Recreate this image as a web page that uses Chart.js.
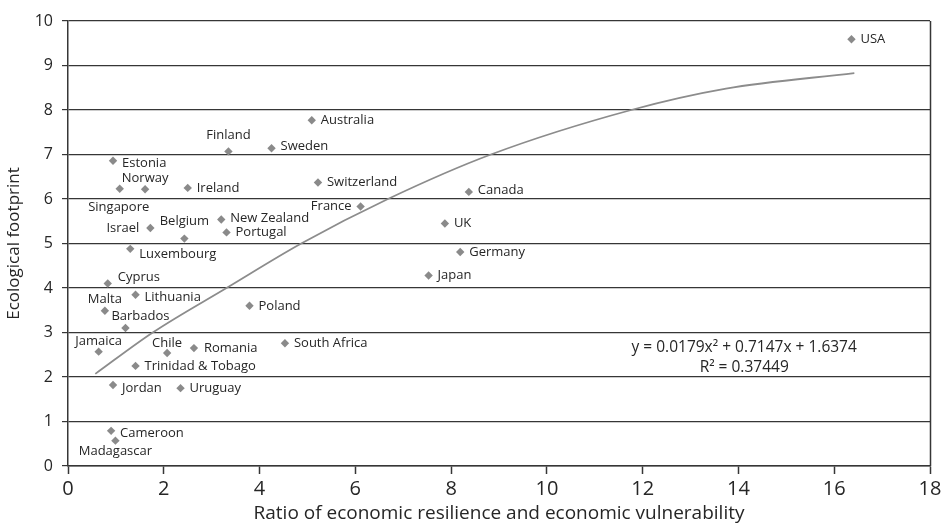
<!DOCTYPE html>
<html>
<head>
<meta charset="utf-8">
<script src="https://cdn.jsdelivr.net/npm/chart.js@4/dist/chart.umd.min.js"></script>
<style>
  html, body { margin: 0; padding: 0; background: #ffffff; }
  canvas { display: block; }
</style>
</head>
<body>
<canvas id="chart" width="949" height="530"></canvas>
<script>
// Countries: ratio of economic resilience to economic vulnerability vs ecological footprint
const countries = [
  'USA', 'Australia', 'Finland', 'Sweden', 'Estonia', 'Norway', 'Singapore', 'Ireland',
  'Switzerland', 'Canada', 'France', 'New Zealand', 'Belgium', 'Israel', 'Portugal', 'UK',
  'Luxembourg', 'Germany', 'Japan', 'Cyprus', 'Lithuania', 'Malta', 'Poland', 'Barbados',
  'South Africa', 'Romania', 'Jamaica', 'Chile', 'Trinidad & Tobago', 'Jordan', 'Uruguay',
  'Cameroon', 'Madagascar'
];
const resilienceRatio = [
  16.36, 5.09, 3.35, 4.25, 0.94, 1.61, 1.08, 2.50,
  5.22, 8.37, 6.11, 3.20, 2.43, 1.72, 3.31, 7.87,
  1.30, 8.19, 7.53, 0.83, 1.41, 0.77, 3.79, 1.20,
  4.53, 2.63, 0.64, 2.07, 1.41, 0.94, 2.35,
  0.90, 0.99
];
const footprint = [
  9.59, 7.77, 7.07, 7.14, 6.86, 6.22, 6.23, 6.25,
  6.37, 6.16, 5.83, 5.54, 5.11, 5.35, 5.25, 5.45,
  4.88, 4.81, 4.28, 4.10, 3.85, 3.49, 3.60, 3.10,
  2.76, 2.65, 2.57, 2.54, 2.25, 1.82, 1.75,
  0.79, 0.57
];

// Fitted trend curve (sampled along the drawn line)
const trendX = [0.57, 1.77, 3.31, 4.87, 6.68, 8.83, 11.76, 13.74, 16.42];
const trendY = [2.07, 3.00, 4.00, 5.00, 6.00, 7.00, 8.00, 8.48, 8.83];

const trendEquation = 'y = 0.0179x\u00B2 + 0.7147x + 1.6374';
const trendR2 = 'R\u00B2 = 0.37449';

const xTitle = 'Ratio of economic resilience and economic vulnerability';
const yTitle = 'Ecological footprint';

// Where each country name sits around its marker: [side, dx, dy] in px
const labelSpots = {
  'USA': ['r', 9, 0], 'Australia': ['r', 9, 0], 'Finland': ['c', 0, -16],
  'Sweden': ['r', 9, -2], 'Estonia': ['r', 9, 3], 'Norway': ['c', 0, -11],
  'Singapore': ['c', -1, 19], 'Ireland': ['r', 9, 0], 'Switzerland': ['r', 9, 0],
  'Canada': ['r', 9, -2], 'France': ['l', -9, 0], 'New Zealand': ['r', 9, -1],
  'Belgium': ['c', 0, -17], 'Israel': ['l', -11, 0], 'Portugal': ['r', 9, 0],
  'UK': ['r', 9, 0], 'Luxembourg': ['r', 9, 5], 'Germany': ['r', 9, 0],
  'Japan': ['r', 9, 0], 'Cyprus': ['r', 10, -6], 'Lithuania': ['r', 9, 3],
  'Malta': ['c', 0, -11], 'Poland': ['r', 9, 0], 'Barbados': ['c', 15, -12],
  'South Africa': ['r', 9, 0], 'Romania': ['r', 10, 0], 'Jamaica': ['c', 0, -10],
  'Chile': ['c', 0, -10], 'Trinidad & Tobago': ['r', 9, 0], 'Jordan': ['r', 9, 3],
  'Uruguay': ['r', 9, 0], 'Cameroon': ['r', 9, 2], 'Madagascar': ['c', 0, 11]
};

const FONT = "'Open Sans', 'Liberation Sans', sans-serif";
const INK = '#262626';
const RULE = '#363636';
const MARK = '#8a8a8a';

// Draws country names, the fit equation and the right-hand frame edge
const annotations = {
  id: 'annotations',
  afterDatasetsDraw(chart) {
    const ctx = chart.ctx;
    const area = chart.chartArea;
    const xs = chart.scales.x, ys = chart.scales.y;
    ctx.save();

    // right frame edge
    ctx.strokeStyle = RULE;
    ctx.lineWidth = 1.5;
    ctx.beginPath();
    ctx.moveTo(Math.round(area.right) + 0.5, area.top);
    ctx.lineTo(Math.round(area.right) + 0.5, area.bottom);
    ctx.stroke();

    // country names
    ctx.font = '13px ' + FONT;
    ctx.fillStyle = INK;
    ctx.textBaseline = 'middle';
    const meta = chart.getDatasetMeta(0);
    countries.forEach((name, i) => {
      const pt = meta.data[i];
      const spot = labelSpots[name] || ['r', 9, 0];
      ctx.textAlign = spot[0] === 'r' ? 'left' : spot[0] === 'l' ? 'right' : 'center';
      ctx.fillText(name, pt.x + spot[1], pt.y + spot[2]);
    });

    // regression equation
    ctx.font = '15.5px ' + FONT;
    ctx.textAlign = 'center';
    const ex = xs.getPixelForValue(14.12);
    const ey = ys.getPixelForValue(2.65);
    ctx.fillText(trendEquation, ex, ey);
    ctx.fillText(trendR2, ex, ey + 20);
    ctx.restore();
  }
};

new Chart(document.getElementById('chart'), {
  type: 'scatter',
  data: {
    datasets: [
      {
        label: 'Countries',
        data: countries.map((n, i) => ({ x: resilienceRatio[i], y: footprint[i] })),
        pointStyle: 'rectRot',
        pointRadius: 4.2,
        pointHoverRadius: 4.2,
        backgroundColor: MARK,
        borderWidth: 0,
        order: 1
      },
      {
        label: 'Trend',
        data: trendX.map((x, i) => ({ x: x, y: trendY[i] })),
        showLine: true,
        borderColor: '#8c8c8c',
        borderWidth: 1.8,
        pointRadius: 0,
        cubicInterpolationMode: 'monotone',
        fill: false,
        order: 2
      }
    ]
  },
  options: {
    responsive: false,
    animation: false,
    layout: { padding: { top: 21, right: 19, left: 0, bottom: 0 } },
    plugins: { legend: { display: false }, tooltip: { enabled: false } },
    scales: {
      x: {
        type: 'linear', min: 0, max: 18,
        ticks: { stepSize: 2, color: INK, font: { family: FONT, size: 20 }, padding: 3, maxRotation: 0 },
        grid: { drawOnChartArea: false, drawTicks: true, tickLength: 8, color: RULE, tickWidth: 1.5 },
        border: { color: RULE, width: 1.5 },
        title: { display: true, text: xTitle, color: INK, font: { family: FONT, size: 19 }, padding: { top: 0, bottom: 5 } },
        afterFit(scale) { scale.height = 64; }
      },
      y: {
        type: 'linear', min: 0, max: 10,
        ticks: { stepSize: 1, color: INK, font: { family: FONT, size: 16 }, padding: 9 },
        grid: { color: RULE, lineWidth: 1.2, tickLength: 6 },
        border: { color: RULE, width: 1.5 },
        title: { display: true, text: yTitle, color: INK, font: { family: FONT, size: 17 }, padding: { top: 4, bottom: 0 } },
        afterFit(scale) { scale.width = 68; }
      }
    }
  },
  plugins: [annotations]
});
</script>
</body>
</html>
